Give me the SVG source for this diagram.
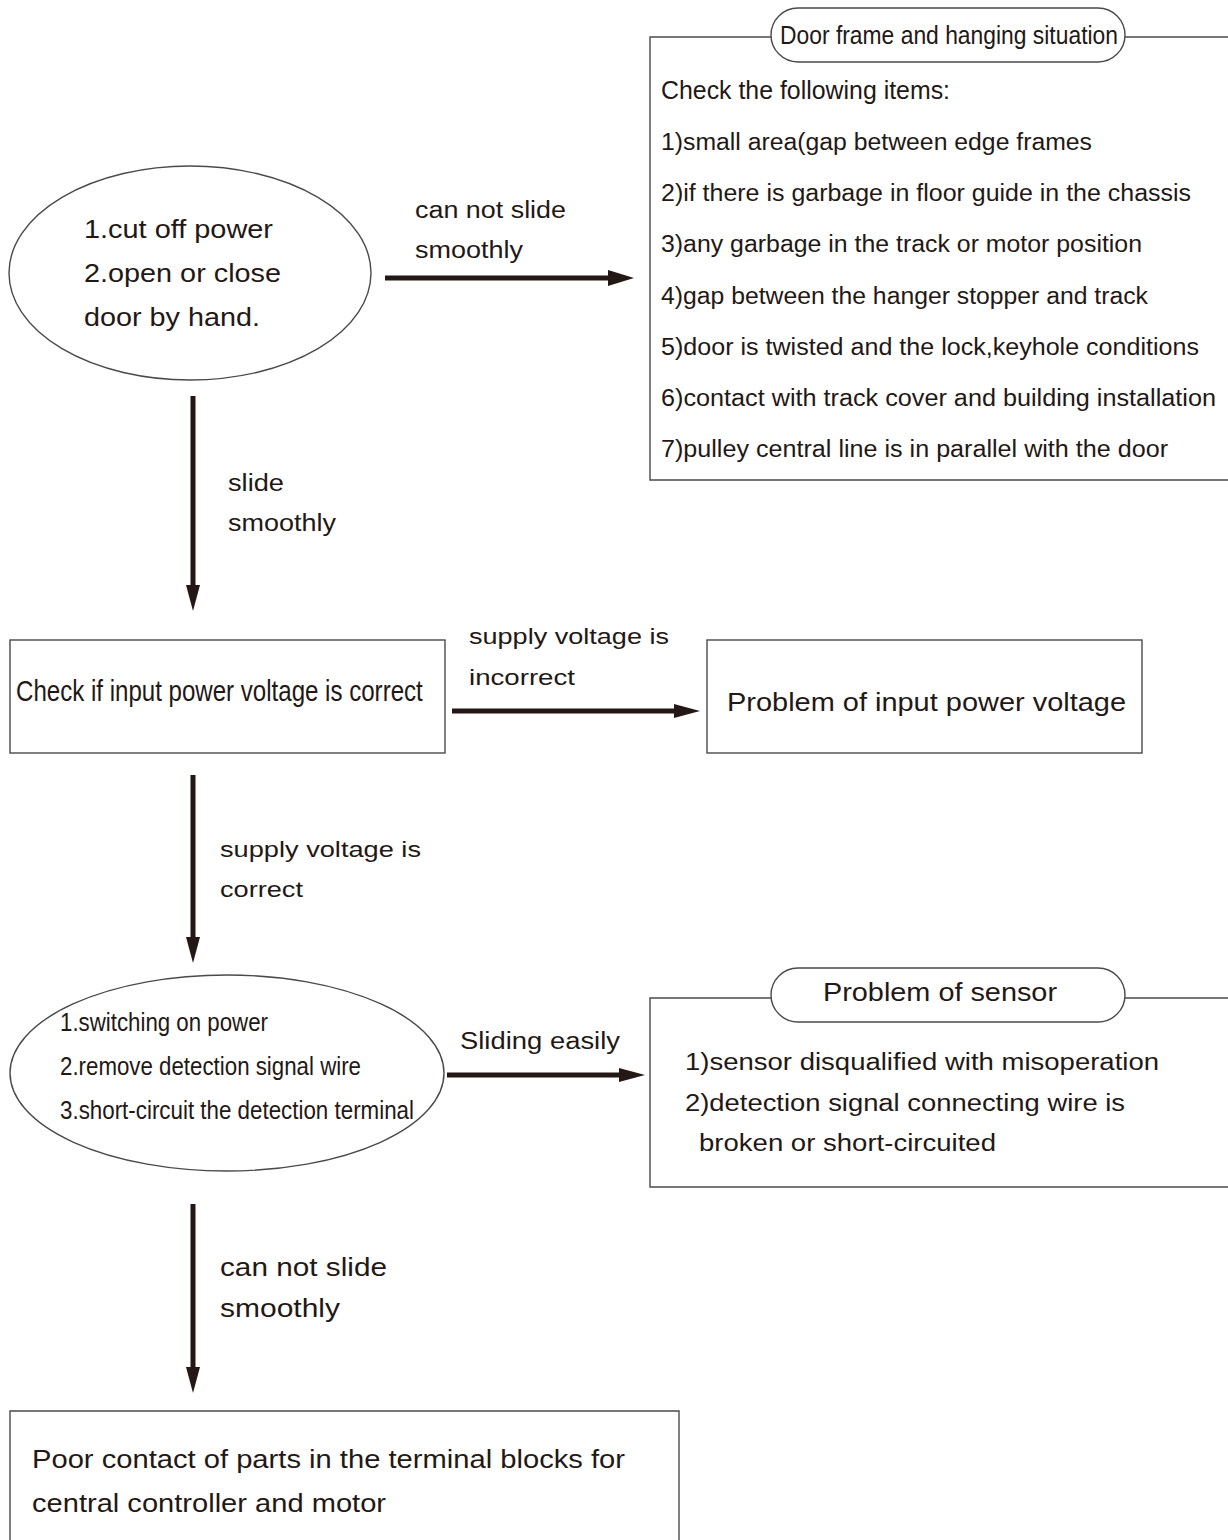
<svg xmlns="http://www.w3.org/2000/svg" width="1228" height="1540" viewBox="0 0 1228 1540">
<defs>
<style>
.box{fill:none;stroke:#4a4a4a;stroke-width:1.4}
.t{font-family:"Liberation Sans",Arial,sans-serif;fill:#231815}
.s25{font-size:25px}
.s23{font-size:23px}
.s22{font-size:22px}
.s26{font-size:26px}
.s28{font-size:30px}
.edge{stroke:#231815;stroke-width:5;fill:none}
</style>
</defs>
<rect width="1228" height="1540" fill="#fff"/>

<g id="connectors">
<line class="edge" x1="385" y1="278" x2="610" y2="278"/>
<path d="M608,270 L634,278 L608,286 z" fill="#231815"/>
<line class="edge" x1="193" y1="396" x2="193" y2="588"/>
<path d="M186,585 L193,611 L200,585 z" fill="#231815"/>
<line class="edge" x1="452" y1="711" x2="676" y2="711"/>
<path d="M674,704 L700,711 L674,718 z" fill="#231815"/>
<line class="edge" x1="193" y1="775" x2="193" y2="940"/>
<path d="M186,937 L193,963 L200,937 z" fill="#231815"/>
<line class="edge" x1="447" y1="1075" x2="621" y2="1075"/>
<path d="M619,1068 L645,1075 L619,1082 z" fill="#231815"/>
<line class="edge" x1="193" y1="1204" x2="193" y2="1370"/>
<path d="M186,1367 L193,1393 L200,1367 z" fill="#231815"/>
<text class="t s23" x="415" y="218" textLength="151" lengthAdjust="spacingAndGlyphs">can not slide</text>
<text class="t s23" x="415" y="258" textLength="108" lengthAdjust="spacingAndGlyphs">smoothly</text>
<text class="t s23" x="228" y="491" textLength="56" lengthAdjust="spacingAndGlyphs">slide</text>
<text class="t s23" x="228" y="531" textLength="108" lengthAdjust="spacingAndGlyphs">smoothly</text>
<text class="t s22" x="469" y="644" textLength="200" lengthAdjust="spacingAndGlyphs">supply voltage is</text>
<text class="t s22" x="469" y="685" textLength="106" lengthAdjust="spacingAndGlyphs">incorrect</text>
<text class="t s22" x="220" y="857" textLength="201" lengthAdjust="spacingAndGlyphs">supply voltage is</text>
<text class="t s22" x="220" y="897" textLength="83" lengthAdjust="spacingAndGlyphs">correct</text>
<text class="t s23" x="460" y="1049" textLength="160" lengthAdjust="spacingAndGlyphs">Sliding easily</text>
<text class="t s26" x="220" y="1276" textLength="167" lengthAdjust="spacingAndGlyphs">can not slide</text>
<text class="t s26" x="220" y="1317" textLength="120" lengthAdjust="spacingAndGlyphs">smoothly</text>
</g>

<g id="node-start">
<ellipse class="box" cx="190" cy="273" rx="181" ry="107"/>
<text class="t s26" x="84" y="238" textLength="189" lengthAdjust="spacingAndGlyphs">1.cut off power</text>
<text class="t s26" x="84" y="282" textLength="197" lengthAdjust="spacingAndGlyphs">2.open or close</text>
<text class="t s26" x="84" y="326" textLength="176" lengthAdjust="spacingAndGlyphs">door by hand.</text>
</g>

<g id="node-door-frame">
<path class="box" d="M1228,37 L1125,37 M771,37 L650,37 L650,480 L1228,480"/>
<rect class="box" x="771" y="8" width="354" height="54" rx="27"/>
<text class="t s25" x="780" y="44" textLength="338" lengthAdjust="spacingAndGlyphs">Door frame and hanging situation</text>
<text class="t s25" x="661" y="99" textLength="289" lengthAdjust="spacingAndGlyphs">Check the following items:</text>
<text class="t s23" x="661" y="150" textLength="431" lengthAdjust="spacingAndGlyphs">1)small area(gap between edge frames</text>
<text class="t s23" x="661" y="201" textLength="530" lengthAdjust="spacingAndGlyphs">2)if there is garbage in floor guide in the chassis</text>
<text class="t s23" x="661" y="252" textLength="481" lengthAdjust="spacingAndGlyphs">3)any garbage in the track or motor position</text>
<text class="t s23" x="661" y="304" textLength="487" lengthAdjust="spacingAndGlyphs">4)gap between the hanger stopper and track</text>
<text class="t s23" x="661" y="355" textLength="538" lengthAdjust="spacingAndGlyphs">5)door is twisted and the lock,keyhole conditions</text>
<text class="t s23" x="661" y="406" textLength="555" lengthAdjust="spacingAndGlyphs">6)contact with track cover and building installation</text>
<text class="t s23" x="661" y="457" textLength="507" lengthAdjust="spacingAndGlyphs">7)pulley central line is in parallel with the door</text>
</g>

<g id="node-check-voltage">
<rect class="box" x="10" y="640" width="435" height="113"/>
<text class="t s28" x="0" y="0" transform="translate(16,701) scale(0.803,1)">Check if input power voltage is correct</text>
</g>

<g id="node-voltage-problem">
<rect class="box" x="707" y="640" width="435" height="113"/>
<text class="t s26" x="727" y="711" textLength="399" lengthAdjust="spacingAndGlyphs">Problem of input power voltage</text>
</g>

<g id="node-switching">
<ellipse class="box" cx="227" cy="1073" rx="217" ry="98"/>
<text class="t s25" x="60" y="1031" textLength="208" lengthAdjust="spacingAndGlyphs">1.switching on power</text>
<text class="t s25" x="60" y="1075" textLength="301" lengthAdjust="spacingAndGlyphs">2.remove detection signal wire</text>
<text class="t s25" x="60" y="1119" textLength="354" lengthAdjust="spacingAndGlyphs">3.short-circuit the detection terminal</text>
</g>

<g id="node-sensor">
<path class="box" d="M1228,998 L1125,998 M771,998 L650,998 L650,1187 L1228,1187"/>
<rect class="box" x="771" y="968" width="354" height="54" rx="27"/>
<text class="t s26" x="823" y="1001" textLength="234" lengthAdjust="spacingAndGlyphs">Problem of sensor</text>
<text class="t s23" x="685" y="1070" textLength="474" lengthAdjust="spacingAndGlyphs">1)sensor disqualified with misoperation</text>
<text class="t s23" x="685" y="1111" textLength="440" lengthAdjust="spacingAndGlyphs">2)detection signal connecting wire is</text>
<text class="t s23" x="699" y="1151" textLength="297" lengthAdjust="spacingAndGlyphs">broken or short-circuited</text>
</g>

<g id="node-poor-contact">
<path class="box" d="M10,1540 L10,1411 L679,1411 L679,1540"/>
<text class="t s26" x="32" y="1468" textLength="593" lengthAdjust="spacingAndGlyphs">Poor contact of parts in the terminal blocks for</text>
<text class="t s26" x="32" y="1512" textLength="354" lengthAdjust="spacingAndGlyphs">central controller and motor</text>
</g>
</svg>
